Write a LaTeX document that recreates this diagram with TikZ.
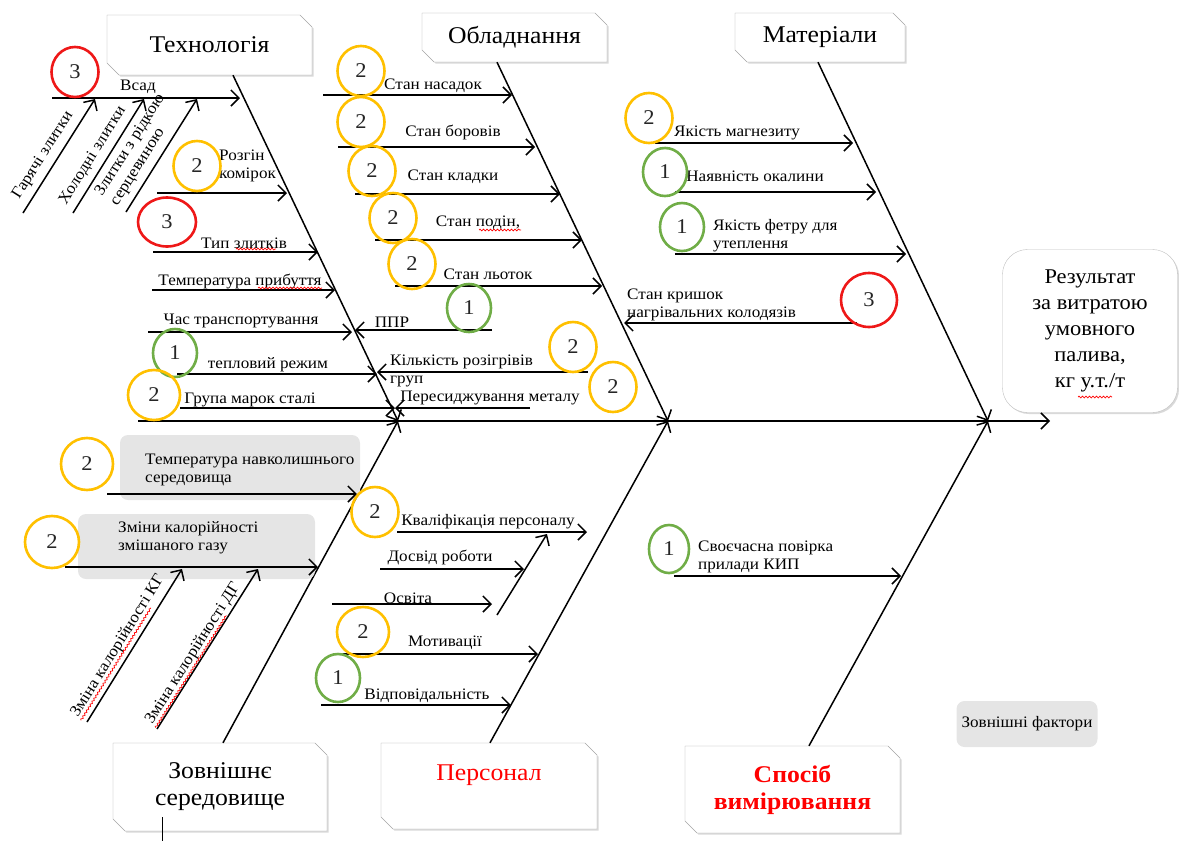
\documentclass[tikz,border=0pt]{standalone}
\usepackage{fontspec}
\setmainfont{Liberation Serif}[FakeStretch=1.07]
\usetikzlibrary{arrows.meta,shapes.geometric,shadows,calc,decorations.pathmorphing}

\definecolor{rOrange}{RGB}{255,192,0}
\definecolor{rGreen}{RGB}{112,173,71}
\definecolor{rRed}{RGB}{238,24,24}

% box with the top right and bottom left corners cut off: x1,y1,x2,y2
\newcommand{\snipbox}[4]{%
  \draw[snip] (#1,#2) -- (#3-12,#2) -- (#3,#2+12) -- (#3,#4) -- (#1+12,#4) -- (#1,#4-12) -- cycle;}

\begin{document}
\begin{tikzpicture}[x=1pt,y=-1pt,
  cause/.style={line width=1.5pt,-{Straight Barb[length=8pt,width=16pt]}},
  bone/.style={line width=1.5pt,-{Straight Barb[length=8pt,width=16pt]}},
  lbl/.style={font=\fontsize{16}{18}\selectfont,inner sep=0pt},
  snip/.style={draw=black!35,fill=white,
    drop shadow={opacity=.3,shadow xshift=1.5pt,shadow yshift=-1.5pt}},
  cat/.style={align=center,inner sep=0pt,font=\fontsize{24}{27}\selectfont},
  gbox/.style={fill=black!10,rounded corners=8pt},
  spell/.style={draw=red,line width=.7pt,decorate,
    decoration={snake,amplitude=.9pt,segment length=3.5pt}},
  rate/.style={ellipse,draw,line width=2.6pt,minimum width=47pt,minimum height=50pt,
    inner sep=0pt,font=\fontsize{21}{21}\selectfont,text=black!85},
  r1/.style={rate,draw=rGreen,minimum width=44pt,minimum height=48pt},
  r2/.style={rate,draw=rOrange},
  r3/.style={rate,draw=rRed}]
\useasboundingbox (0,0) rectangle (1179,841);

% categories
\snipbox{107}{15}{312}{75}
\node[cat,minimum width=205,minimum height=60] (tech) at (209.5,45) {Технологія};
\snipbox{422}{13}{607}{62}
\node[cat,minimum width=185,minimum height=49] (equip) at (514.5,37.5) {Обладнання};
\snipbox{735}{13}{905}{62}
\node[cat,minimum width=170,minimum height=49] (mat) at (820,37.5) {Матеріали};
\snipbox{113}{743}{327}{831}
\node[cat,minimum width=214,minimum height=88] (env) at (220,787) {Зовнішнє\\середовище};
\snipbox{381}{743}{597}{829}
\node[cat,minimum width=216,minimum height=86,text=red] (staff) at (489,786) {Персонал\\\mbox{}};
\snipbox{685}{746}{900}{833}
\node[cat,minimum width=215,minimum height=87,text=red,font=\fontsize{24}{27}\selectfont\bfseries] (meas) at (792.5,789.5) {Спосіб\\вимірювання};

\node[draw=black!25,fill=white,rounded corners=25pt,minimum width=175,minimum height=163,
  align=center,drop shadow={opacity=.3,shadow xshift=1.5pt,shadow yshift=-1.5pt},
  font=\fontsize{21}{26}\selectfont] (res) at (1090,331)
  {Результат\\за витратою\\умовного\\палива,\\кг у.т./т};
\draw[spell] (1078,397) -- (1112,397);
\node[gbox,lbl,minimum width=141,minimum height=46] (ext) at (1027,724) {Зовнішні фактори};

% spine and bones
\coordinate (tail) at (138,421);
\coordinate (tip) at (1050,421);
\coordinate (jT) at (398,421);
\coordinate (jO) at (668,421);
\coordinate (jM) at (988,421);
\draw[bone] (tail) -- (tip);
\draw[bone] ([xshift=23.5pt]tech.south) -- (jT);
\draw[bone] ([xshift=-17.5pt]equip.south) -- (jO);
\draw[bone] ([xshift=-2pt]mat.south) -- (jM);
\draw[bone] ([xshift=3pt]env.north) -- (jT);
\draw[bone] ([xshift=1pt]staff.north) -- (jO);
\draw[bone] ([xshift=16.5pt]meas.north) -- (jM);
\draw[line width=1pt] (162,817) -- (162,841);

% Технологія
\draw[cause] (52,98) -- (240,98);
\node[lbl] (vsad) at (138,87) {Всад};
\draw[cause] (23,213) -- node[lbl,sloped,above=6pt,pos=.44] (hot) {Гарячі злитки} (95,99);
\draw[cause] (73,213) -- node[lbl,sloped,above=6pt,pos=.44] (cold) {Холодні злитки} (144,99);
\draw[cause] (126,212) -- node[lbl,sloped,above=6pt,pos=.44,align=left] (liq) {Злитки з рідкою\\серцевиною} (197,99);
\draw[cause] (157,193) -- (287,193);
\node[lbl,align=left,anchor=west] (rozgin) at (219,166) {Розгін\\комірок};
\draw[cause] (153,252) -- (318,252);
\node[lbl] (typ) at (244,243) {Тип злитків};
\draw[spell] (236,249) -- (276,249);
\draw[cause] (152,290) -- (335,290);
\node[lbl] (tarr) at (240,281) {Температура прибуття};
\draw[spell] (258,288) -- (322,288);
\draw[cause] (148,332) -- (352,332);
\node[lbl] (trans) at (241,321) {Час транспортування};
\draw[cause] (177,374) -- (377,374);
\node[lbl] (heat) at (268,365) {тепловий режим};
\draw[cause] (180,408) -- (395,408);
\node[lbl] (grade) at (250,400) {Група марок сталі};

% Обладнання
\draw[cause] (323,95) -- (512,95);
\node[lbl] (nas) at (433,86) {Стан насадок};
\draw[cause] (338,147) -- (535,147);
\node[lbl] (bor) at (453,132) {Стан боровів};
\draw[cause] (355,194) -- (560,194);
\node[lbl] (klad) at (453,177) {Стан кладки};
\draw[cause] (375,240) -- (582,240);
\node[lbl] (pod) at (478,223) {Стан подін,};
\draw[spell] (479,230) -- (521,230);
\draw[cause] (395,286) -- (602,286);
\node[lbl] (lot) at (488,274) {Стан льоток};
\draw[cause] (492,330) -- (355,330);
\node[lbl] (ppr) at (392,322) {ППР};
\draw[cause] (588,372) -- (377,372);
\node[lbl,align=left,anchor=west] (rozig) at (390,371) {Кількість розігрівів\\груп};
\draw[cause] (530,408) -- (395,408);
\node[lbl] (peres) at (490,398) {Пересиджування металу};

% Матеріали
\draw[cause] (655,143) -- (853,143);
\node[lbl] (magn) at (737,133) {Якість магнезиту};
\draw[cause] (675,192) -- (876,192);
\node[lbl] (okal) at (755,176) {Наявність окалини};
\draw[cause] (675,254) -- (906,254);
\node[lbl,align=left,anchor=west] (fetr) at (713,236) {Якість фетру для\\утеплення};
\draw[cause] (857,323) -- (624,323);
\node[lbl,align=left,anchor=west] (kryshk) at (627,305) {Стан кришок\\нагрівальних колодязів};

% Зовнішнє середовище
\fill[gbox] (120,435) rectangle (360,500);
\node[lbl,align=left,anchor=west] (tenv) at (145,470) {Температура навколишнього\\середовища};
\draw[cause] (107,494) -- (357,494);
\fill[gbox] (78,514) rectangle (315,579);
\node[lbl,align=left,anchor=west] (gas) at (118,538) {Зміни калорійності\\змішаного газу};
\draw[cause] (65,567) -- (318,567);
\draw[cause] (87,722) -- node[lbl,sloped,above=6pt,pos=.45] (kg) {Зміна калорійності КГ} (182,569);
\draw[cause] (157,729) -- node[lbl,sloped,above=2pt,pos=.44] (dg) {Зміна калорійності ДГ} (258,569);
\draw[spell] (kg.south west) -- ($(kg.south west)!.8!(kg.south east)$);
\draw[spell] (dg.south west) -- ($(dg.south west)!.8!(dg.south east)$);

% Персонал
\draw[cause] (397,532) -- (587,532);
\node[lbl] (qual) at (488,522) {Кваліфікація персоналу};
\draw[cause] (497,615) -- (547,534);
\draw[cause] (380,569) -- (524,569);
\node[lbl] (exp) at (440,557) {Досвід роботи};
\draw[cause] (332,604) -- (492,604);
\node[lbl] (edu) at (408,598) {Освіта};
\draw[cause] (338,654) -- (538,654);
\node[lbl] (mot) at (445,643) {Мотивації};
\draw[cause] (321,705) -- (511,705);
\node[lbl] (resp) at (427,696) {Відповідальність};

% Спосіб вимірювання
\draw[cause] (674,576) -- (901,576);
\node[lbl,align=left,anchor=west] (kip) at (698,557) {Своєчасна повірка\\прилади КИП};

% ratings
\node[r3] (c1) at (75,72) {3};
\node[r2] (c2) at (197,166) {2};
\node[r3,minimum width=58pt,minimum height=49pt] (c3) at (167,222) {3};
\node[r1] (c4) at (175,353) {1};
\node[r2,minimum width=52pt,minimum height=50pt] (c5) at (154,395) {2};
\node[r2] (c6) at (361,71) {2};
\node[r2] (c7) at (361,122) {2};
\node[r2] (c8) at (372,171) {2};
\node[r2] (c9) at (393,218) {2};
\node[r2] (c10) at (412,264) {2};
\node[r1] (c11) at (469,308) {1};
\node[r2] (c12) at (573,347) {2};
\node[r2] (c13) at (613,387) {2};
\node[r2] (c14) at (649,118) {2};
\node[r1] (c15) at (665,172) {1};
\node[r1] (c16) at (682,227) {1};
\node[r3,minimum width=56pt,minimum height=54pt] (c17) at (869,300) {3};
\node[r2,minimum width=52pt,minimum height=52pt] (c18) at (87,464) {2};
\node[r2,minimum width=54pt,minimum height=52pt] (c19) at (52,542) {2};
\node[r2] (c20) at (375,512) {2};
\node[r2,minimum width=52pt,minimum height=50pt] (c21) at (363,632) {2};
\node[r1] (c22) at (338,678) {1};
\node[r1,minimum width=40pt] (c23) at (669,549) {1};
\end{tikzpicture}
\end{document}
